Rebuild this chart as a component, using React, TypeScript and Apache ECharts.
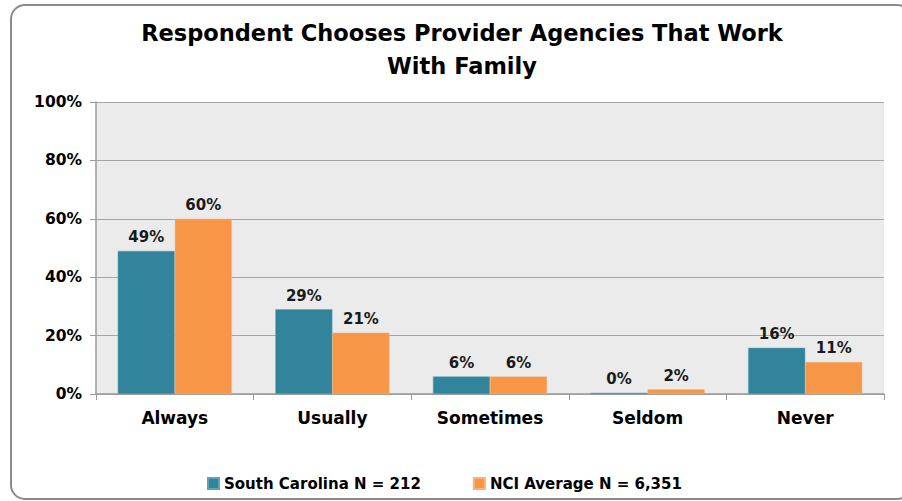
import React, { useEffect, useRef } from "react";
import * as echarts from "echarts";

const categories = ["Always", "Usually", "Sometimes", "Seldom", "Never"];
const southCarolina = [49, 29, 6, 0.4, 15.8];
const nciAverage = [60, 21, 6, 1.6, 11];
const seriesNames = ["South Carolina N = 212", "NCI Average N = 6,351"];
const titleText = "Respondent Chooses Provider Agencies That Work\nWith Family";

const FONT = "'DejaVu Sans', 'Open Sans', sans-serif";

export default function App() {
  const ref = useRef<HTMLDivElement>(null);
  useEffect(() => {
    document.body.style.margin = "0";
    const chart = echarts.init(ref.current!, null, { renderer: "svg" });
    const labelOpt = {
      show: true,
      position: "top",
      distance: 6,
      color: "#1a1a1a",
      fontFamily: FONT,
      fontWeight: "bold",
      fontSize: 15,
      formatter: (p: any) => Math.round(p.value) + "%",
    };
    chart.setOption({
      animation: false,
      backgroundColor: "#ffffff",
      textStyle: { fontFamily: FONT },
      title: {
        text: titleText,
        left: 457,
        textAlign: "center",
        top: 11,
        textStyle: {
          fontFamily: FONT,
          fontWeight: "bold",
          fontSize: 22.5,
          lineHeight: 33,
          color: "#000000",
        },
      },
      graphic: [
        {
          type: "rect",
          shape: { x: 11, y: 5, width: 900, height: 494, r: 14 },
          style: { fill: "none", stroke: "#8a8a8a", lineWidth: 2 },
          silent: true,
        },
      ],
      legend: {
        bottom: 5,
        left: 202,
        itemWidth: 11,
        itemHeight: 11,
        itemGap: 52,
        icon: "rect",
        textStyle: {
          fontFamily: FONT,
          fontWeight: "bold",
          fontSize: 15,
          color: "#000000",
        },
        data: seriesNames,
      },
      grid: {
        left: 96,
        right: 18,
        top: 102,
        bottom: 107,
        show: true,
        backgroundColor: "#EBEBEB",
        borderWidth: 0,
      },
      xAxis: {
        type: "category",
        data: categories,
        axisLine: { show: true, lineStyle: { color: "#9a9a9a", width: 1.5 } },
        axisTick: { show: true, length: 6, lineStyle: { color: "#9a9a9a" } },
        axisLabel: {
          fontFamily: FONT,
          fontWeight: "bold",
          fontSize: 17,
          color: "#000000",
          margin: 15,
        },
      },
      yAxis: {
        type: "value",
        min: 0,
        max: 100,
        interval: 20,
        axisLine: { show: true, lineStyle: { color: "#9a9a9a", width: 1.5 } },
        axisTick: { show: true, length: 6, lineStyle: { color: "#9a9a9a" } },
        splitLine: { show: true, lineStyle: { color: "#a6a6a6", width: 1.2 } },
        axisLabel: {
          formatter: "{value}%",
          fontFamily: FONT,
          fontWeight: "bold",
          fontSize: 15.5,
          color: "#000000",
          margin: 14,
        },
      },
      series: [
        {
          name: seriesNames[0],
          type: "bar",
          data: southCarolina,
          barGap: "0%",
          barCategoryGap: "27.6%",
          itemStyle: { color: "#31849B", borderColor: "#5fa3b6", borderWidth: 0.5 },
          label: labelOpt,
        },
        {
          name: seriesNames[1],
          type: "bar",
          data: nciAverage,
          barGap: "0%",
          barCategoryGap: "27.6%",
          itemStyle: { color: "#F79646", borderColor: "#fab27a", borderWidth: 0.5 },
          label: labelOpt,
        },
      ],
    });
    return () => chart.dispose();
  }, []);
  return (
    <div
      ref={ref}
      style={{ position: "absolute", left: 0, top: 0, width: 902, height: 501 }}
    />
  );
}
